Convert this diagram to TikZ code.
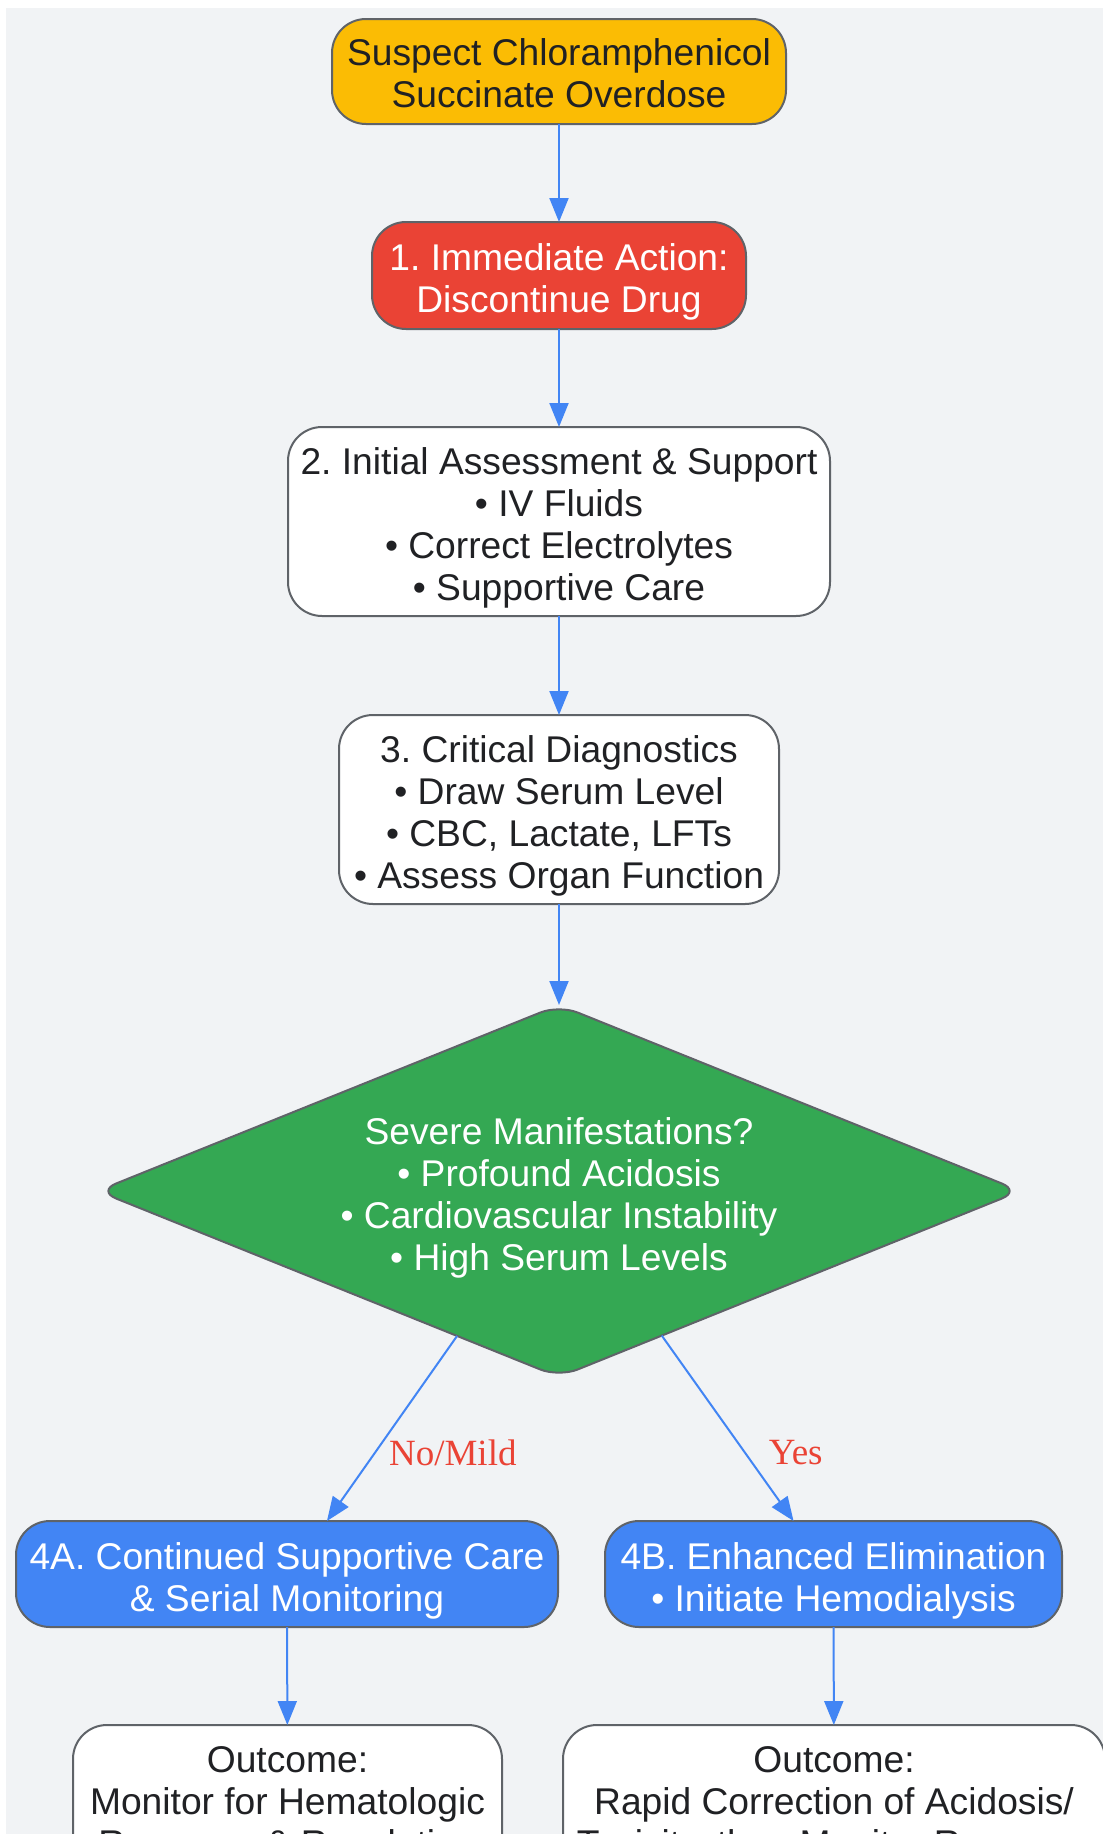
\documentclass[tikz,border=0pt]{standalone}
\usepackage{fontspec}
\setmainfont{Liberation Sans}
\newfontfamily\edgefont{Liberation Serif}
\usepackage{tikz}
\usetikzlibrary{shapes.geometric,arrows.meta}
\definecolor{bggray}{HTML}{F1F3F5}
\definecolor{bordergray}{HTML}{5F6368}
\definecolor{txtdark}{HTML}{202124}
\definecolor{gyellow}{HTML}{FBBC04}
\definecolor{gred}{HTML}{EA4335}
\definecolor{ggreen}{HTML}{34A853}
\definecolor{gblue}{HTML}{4285F4}
\newcommand{\firstline}[1][40pt]{\rule{0pt}{#1}}
\frenchspacing

\begin{document}
\begin{tikzpicture}[x=1pt,y=-1pt,
    every node/.style={font=\fontsize{37.2}{42}\selectfont, text=txtdark, align=center, inner sep=0pt, outer sep=0pt},
    box/.style={draw=bordergray, line width=2pt, rounded corners=34pt, fill=white},
    flow/.style={draw=gblue, line width=2pt, -{Triangle[length=24pt,width=19pt]}},
    choice/.style={font=\edgefont\fontsize{37}{42}\selectfont, text=gred}]
    \useasboundingbox (0,0) rectangle (1103,1834);
    \clip (0,0) rectangle (1103,1834);
    \fill[bggray] (6,8) rectangle (1103,1834);
    \node[box, fill=gyellow, minimum width=454pt, minimum height=105pt] (start) at (559,71.5) {\firstline[30pt]Suspect Chloramphenicol\\Succinate Overdose};
    \node[box, fill=gred, text=white, minimum width=374pt, minimum height=107pt] (act) at (559,275.5) {\firstline 1. Immediate Action:\\Discontinue Drug};
    \node[box, minimum width=542pt, minimum height=189pt] (assess) at (559,521.5) {\firstline 2. Initial Assessment \& Support\\\textbullet{} IV Fluids\\\textbullet{} Correct Electrolytes\\\textbullet{} Supportive Care};
    \node[box, minimum width=440pt, minimum height=189pt] (diag) at (559,809.5) {\firstline 3. Critical Diagnostics\\\textbullet{} Draw Serum Level\\\textbullet{} CBC, Lactate, LFTs\\\textbullet{} Assess Organ Function};
    \node[diamond, draw=bordergray, line width=2pt, fill=ggreen, text=white, aspect=2.456, minimum width=923pt, minimum height=372pt, rounded corners=20pt] (sev) at (559,1191) {\firstline Severe Manifestations?\\\textbullet{} Profound Acidosis\\\textbullet{} Cardiovascular Instability\\\textbullet{} High Serum Levels};
    \node[box, fill=gblue, text=white, minimum width=542pt, minimum height=106pt] (contA) at (287,1574) {\firstline 4A. Continued Supportive Care\\\& Serial Monitoring};
    \node[box, fill=gblue, text=white, minimum width=457pt, minimum height=106pt] (contB) at (833.5,1574) {\firstline 4B. Enhanced Elimination\\\textbullet{} Initiate Hemodialysis};
    \node[box, minimum width=429pt, minimum height=147pt] (outA) at (287.5,1798.5) {\firstline Outcome:\\Monitor for Hematologic\\Recovery \& Resolution};
    \node[box, minimum width=542pt, minimum height=147pt] (outB) at (834,1798.5) {\firstline Outcome:\\Rapid Correction of Acidosis/\\Toxicity, then Monitor Recovery};
    \draw[flow] (start) -- (act);
    \draw[flow] (act) -- (assess);
    \draw[flow] (assess) -- (diag);
    \draw[flow] (diag) -- (sev);
    \draw[flow] (sev) -- (contA.53) node[choice, pos=0.63, anchor=west, xshift=14pt] {No/Mild};
    \draw[flow] (sev) -- (contB.127) node[choice, pos=0.63, anchor=west, xshift=24pt] {Yes};
    \draw[flow] (contA) -- (outA);
    \draw[flow] (contB) -- (outB);
\end{tikzpicture}
\end{document}
